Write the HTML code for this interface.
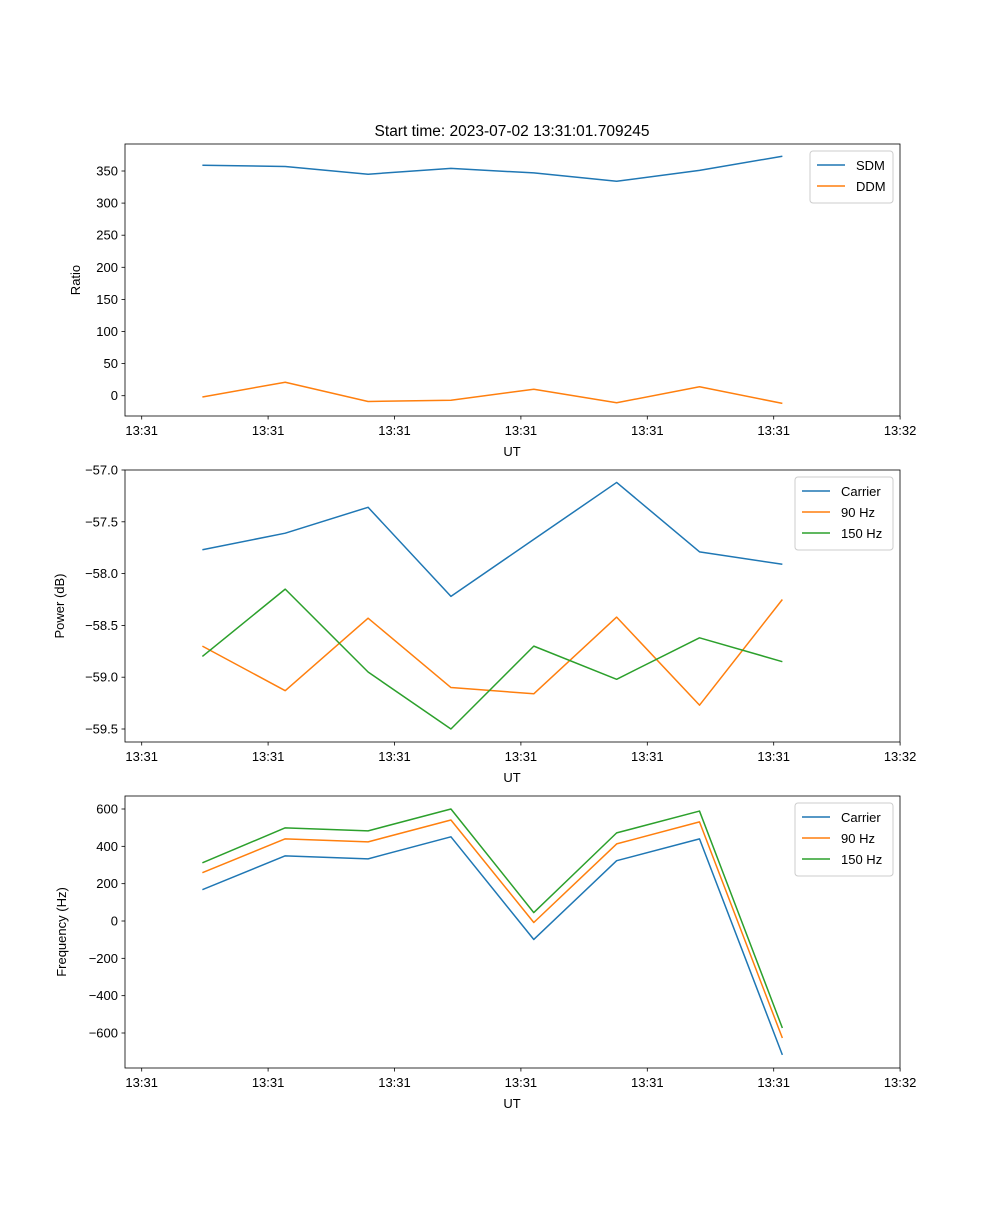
<!DOCTYPE html>
<html><head><meta charset="utf-8"><style>
body{margin:0;background:#fff;}
svg{font-family:"Liberation Sans","DejaVu Sans",sans-serif;}
</style></head><body>
<svg id="chart" width="1000" height="1200" xmlns="http://www.w3.org/2000/svg"></svg>
<script>
const sampleTimes = [0.48,1.1355,1.791,2.4465,3.102,3.7575,4.413,5.0685];
const xTickPos = [0,1,2,3,4,5,6];
const xTickLabels = ["13:31","13:31","13:31","13:31","13:31","13:31","13:32"];
const sdm = [359,357,345,354,347,334,351,373];
const ddm = [-2,21,-9,-7,10,-11,14,-12];
const ratioTicks = [0,50,100,150,200,250,300,350];
const powCarrier = [-57.77,-57.61,-57.36,-58.22,-57.67,-57.12,-57.79,-57.91];
const pow90 = [-58.70,-59.13,-58.43,-59.10,-59.16,-58.42,-59.27,-58.25];
const pow150 = [-58.80,-58.15,-58.95,-59.50,-58.70,-59.02,-58.62,-58.85];
const powTicks = [-59.5,-59.0,-58.5,-58.0,-57.5,-57.0];
const freqCarrier = [168,349,333,451,-99,323,440,-717];
const freq90 = [259,440,424,541,-8,413,531,-627];
const freq150 = [312,499,483,600,45,472,589,-573];
const freqTicks = [-600,-400,-200,0,200,400,600];

const NS="http://www.w3.org/2000/svg";
const svg=document.getElementById('chart');
function mk(tag,attrs,parent){const e=document.createElementNS(NS,tag);for(const k in attrs)e.setAttribute(k,attrs[k]);(parent||svg).appendChild(e);return e;}
const L=125,R=900;
const xs=t=>141.7+126.4*t;
const C1="#1f77b4",C2="#ff7f0e",C3="#2ca02c";

function panel(name,top,bottom,v0,y0,v1,y1,ticks,fmt,ylabel,ylabelX,series,legend){
  const g=mk('g',{});
  
  
  const ys=v=>y0+(v-v0)*(y1-y0)/(v1-v0);
  series.forEach(s=>{
    const p=mk('polyline',{points:s.data.map((v,i)=>xs(sampleTimes[i])+','+ys(v)).join(' '),fill:'none',stroke:s.color,'stroke-width':1.5,'stroke-linejoin':'round'},g);
    
    
  });
  mk('rect',{x:L,y:top,width:R-L,height:bottom-top,fill:'none',stroke:'#000','stroke-width':0.8},g);
  ticks.forEach(v=>{
    const y=ys(v);
    mk('line',{x1:L-3.5,x2:L,y1:y,y2:y,stroke:'#000','stroke-width':0.8},g);
    const t=mk('text',{x:L-7,y:y+4.5,'text-anchor':'end','font-size':13,fill:'#000'},g);
    t.textContent=fmt(v).replace('-','\u2212');
    
    
  });
  xTickPos.forEach((p,i)=>{
    const x=xs(p);
    mk('line',{x1:x,x2:x,y1:bottom,y2:bottom+3.5,stroke:'#000','stroke-width':0.8},g);
    const t=mk('text',{x:x,y:bottom+19,'text-anchor':'middle','font-size':13,fill:'#000'},g);
    t.textContent=xTickLabels[i];
    
    
  });
  const xl=mk('text',{x:512,y:bottom+40,'text-anchor':'middle','font-size':13},g);
  xl.textContent='UT';
  
  
  const cy=(top+bottom)/2;
  const yl=mk('text',{x:ylabelX,y:cy,'text-anchor':'middle','font-size':13,transform:'rotate(-90 '+ylabelX+' '+cy+')'},g);
  yl.textContent=ylabel;
  
  
  const lg=mk('g',{},g);
  
  
  mk('rect',{x:legend.x,y:top+7,width:R-7-legend.x,height:series.length*21+10,rx:3,fill:'#fff',stroke:'#ccc','stroke-width':1},lg);
  series.forEach((s,i)=>{
    const y=top+7+14+i*21;
    mk('line',{x1:legend.x+7,x2:legend.x+35,y1:y,y2:y,stroke:s.color,'stroke-width':1.5},lg);
    const t=mk('text',{x:legend.x+46,y:y+5,'font-size':13},lg);
    t.textContent=s.label;
    
    
  });
}
const title=mk('text',{x:512,y:136,'text-anchor':'middle','font-size':15.5});
title.textContent='Start time: 2023-07-02 13:31:01.709245';



panel('ratio',144,416,0,395.7,350,171,ratioTicks,v=>String(v),'Ratio',80,
  [{key:'sdm',label:'SDM',color:C1,data:sdm},{key:'ddm',label:'DDM',color:C2,data:ddm}],{x:810});
panel('power',470,742,-57,470,-59.5,729,powTicks,v=>v.toFixed(1),'Power (dB)',64,
  [{key:'carrier',label:'Carrier',color:C1,data:powCarrier},{key:'90hz',label:'90 Hz',color:C2,data:pow90},{key:'150hz',label:'150 Hz',color:C3,data:pow150}],{x:795});
panel('frequency',796,1068,600,809,-600,1033,freqTicks,v=>String(v),'Frequency (Hz)',66,
  [{key:'carrier',label:'Carrier',color:C1,data:freqCarrier},{key:'90hz',label:'90 Hz',color:C2,data:freq90},{key:'150hz',label:'150 Hz',color:C3,data:freq150}],{x:795});
</script>
</body></html>
